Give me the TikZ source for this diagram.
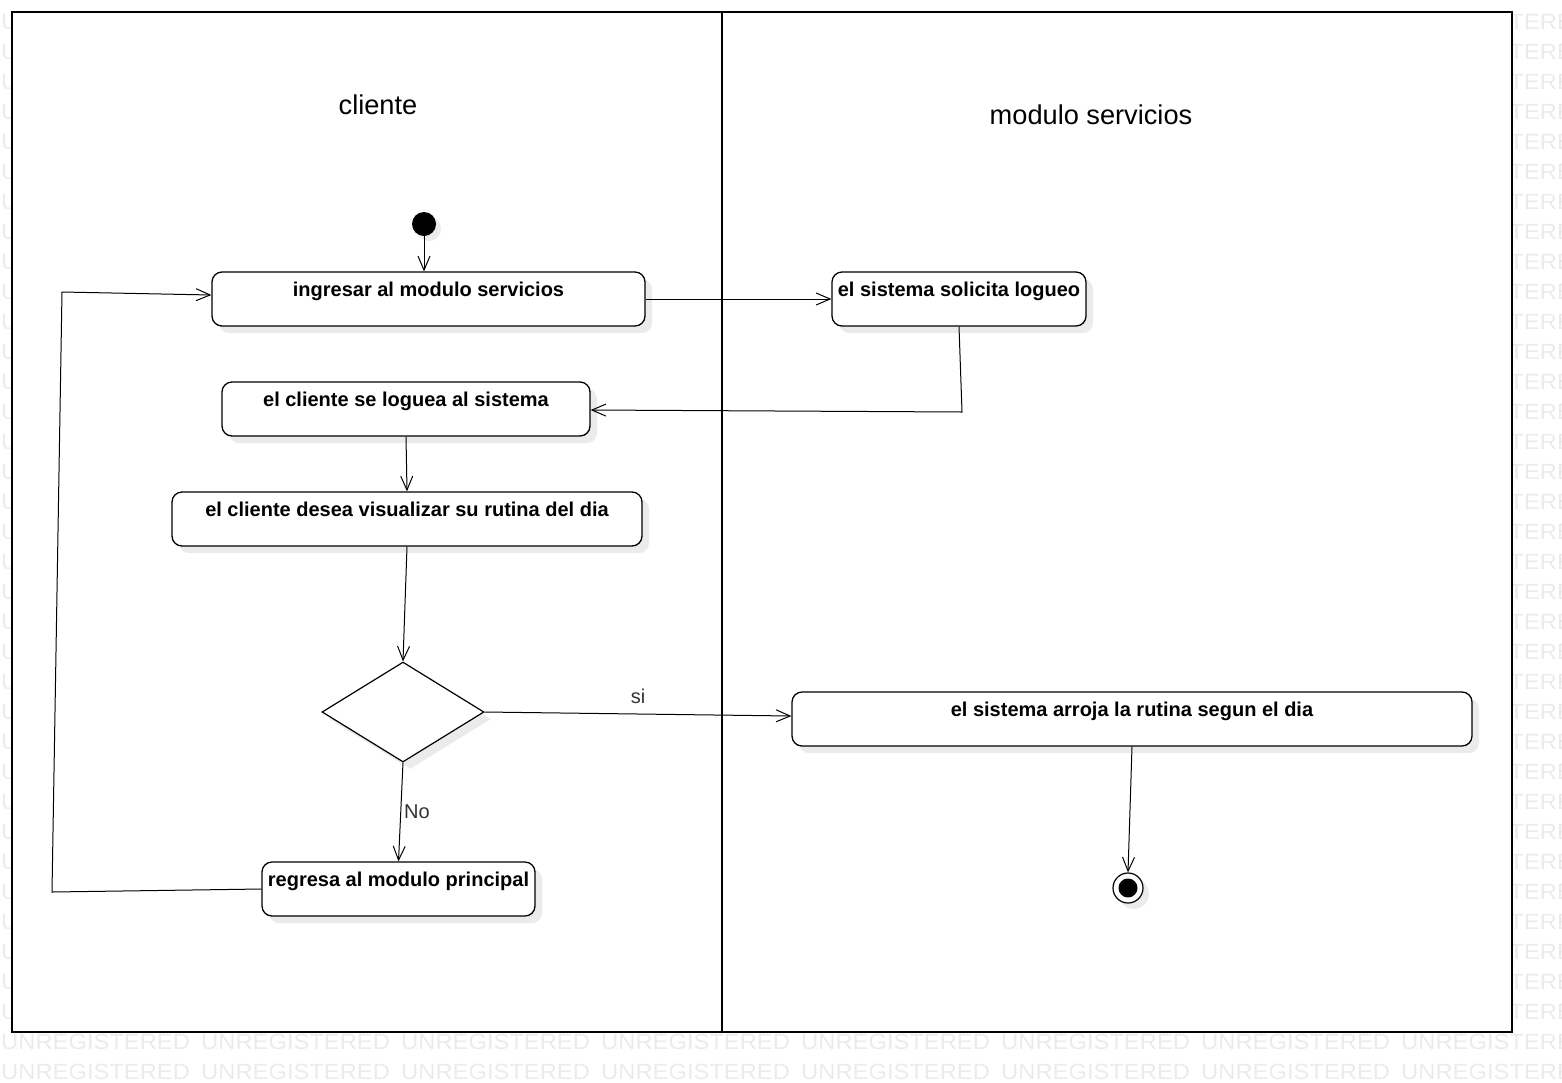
\documentclass[tikz,border=0pt]{standalone}
\usepackage{fontspec}
\setmainfont{Liberation Sans}
\usetikzlibrary{arrows.meta,shapes.geometric,shadows,calc}

\tikzset{
  act/.style={draw, line width=1.3pt, rounded corners=10pt, fill=white,
    inner sep=0pt,
    drop shadow={shadow xshift=7pt, shadow yshift=-7pt, fill=black!8, opacity=1}},
  acttext/.style={font=\bfseries\fontsize{20}{24}\selectfont, anchor=base},
  flow/.style={line width=1pt, -{Straight Barb[length=14pt,width=12pt,line width=1pt]}},
  lane/.style={font=\fontsize{27.2}{30}\selectfont, anchor=base},
  guard/.style={font=\fontsize{20}{24}\selectfont, text=black!80, anchor=base},
  wm/.style={font=\fontsize{22}{22}\selectfont, text=black!8, anchor=base west, xscale=1.08, inner sep=0pt}
}

\begin{document}
\begin{tikzpicture}[x=1pt, y=-1pt]
  \useasboundingbox (0,0) rectangle (1562,1082);

  % background watermark: side margins beside the frame, full rows below it
  \begin{scope}
    \clip (0,0) rectangle (1562,1082);
    \foreach \r in {0,...,33} {
      \node[wm] (wml-\r) at (1,{29+30*\r}) {UNREGISTERED};
      \node[wm] (wmr-\r) at (1401,{29+30*\r}) {UNREGISTERED};
    }
    \foreach \r in {34,35} {
      \foreach \c in {0,...,7} {
        \node[wm] (wm-\r-\c) at ({1+200*\c},{29+30*\r}) {UNREGISTERED};
      }
    }
  \end{scope}

  % frame and swimlanes
  \filldraw[fill=white, draw=black, line width=1.5pt] (12,12) rectangle (1512,1032);
  \coordinate (laneTop) at (722,12);
  \coordinate (laneBot) at (722,1032);
  \draw[line width=1.3pt] (laneTop) -- (laneBot);
  \node[lane] (l1) at (378,114) {cliente};
  \node[lane] (l2) at (1091,124) {modulo servicios};

  % initial node
  \node[circle, fill=black, minimum size=24pt, inner sep=0pt,
        drop shadow={shadow xshift=5pt, shadow yshift=-5pt, fill=black!8, opacity=1}] (init) at (424,224) {};

  % activities
  \node[act, minimum width=433pt, minimum height=54pt] (b1) at (428.5,299) {};
  \node[acttext] (t1) at ($(b1.north)+(0,25)$) {ingresar al modulo servicios};

  \node[act, minimum width=254pt, minimum height=54pt] (b2) at (959,299) {};
  \node[acttext] (t2) at ($(b2.north)+(0,25)$) {el sistema solicita logueo};

  \node[act, minimum width=368pt, minimum height=54pt] (b3) at (406,409) {};
  \node[acttext] (t3) at ($(b3.north)+(0,25)$) {el cliente se loguea al sistema};

  \node[act, minimum width=470pt, minimum height=54pt] (b4) at (407,519) {};
  \node[acttext] (t4) at ($(b4.north)+(0,25)$) {el cliente desea visualizar su rutina del dia};

  \node[diamond, draw, line width=1.2pt, fill=white, inner sep=0pt,
        minimum width=162pt, minimum height=100pt,
        drop shadow={shadow xshift=7pt, shadow yshift=-7pt, fill=black!8, opacity=1}] (d) at (403,712) {};

  \node[act, minimum width=680pt, minimum height=54pt] (b5) at (1132,719) {};
  \node[acttext] (t5) at ($(b5.north)+(0,25)$) {el sistema arroja la rutina segun el dia};

  \node[act, minimum width=273pt, minimum height=54pt] (b6) at (398.5,889) {};
  \node[acttext] (t6) at ($(b6.north)+(0,25)$) {regresa al modulo principal};

  % final node
  \node[circle, draw, line width=1.2pt, fill=white, minimum size=30pt, inner sep=0pt,
        drop shadow={shadow xshift=6pt, shadow yshift=-6pt, fill=black!8, opacity=1}] (fin) at (1128,888) {};
  \fill (fin.center) circle (9.5);

  % transitions
  \coordinate (k1) at (962,412);
  \coordinate (k2) at (52,892);
  \coordinate (k3) at (62,292);

  \draw[flow] (init) -- (b1.north -| init);
  \draw[flow] (b1.east) -- (b2.west);
  \draw[flow] (b2.south) -- (k1) -- ([yshift=-1pt]b3.east);
  \draw[flow] (b3.south) -- (b4.north);
  \draw[flow] (b4.south) -- (d.north);
  \draw[flow] (d.east) -- node[guard, pos=0.5, above=6pt] (gsi) {si} ([yshift=3pt]b5.west);
  \draw[flow] (d.south) -- (b6.north);
  \node[guard] (gno) at (417,818) {No};
  \draw[flow] (b6.west) -- (k2) -- (k3) -- ([yshift=4pt]b1.west);
  \draw[flow] (b5.south) -- (fin.north);
\end{tikzpicture}
\end{document}
